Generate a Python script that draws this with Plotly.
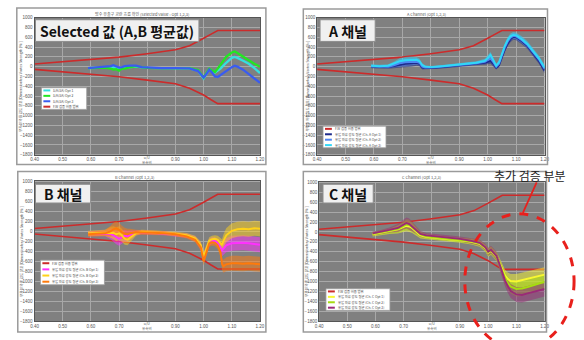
import plotly.graph_objects as go

W, H = 584, 340

# ---- allowable envelope (same for every channel) ----
ENV_X = [0.40, 0.50, 0.60, 0.70, 0.80, 0.90, 0.95, 0.975, 1.00, 1.025, 1.05, 1.20]
ENV_UP = [55, 100, 145, 195, 265, 345, 430, 500, 580, 660, 740, 740]
ENV_LO = [-55, -100, -150, -205, -275, -350, -440, -510, -580, -670, -755, -755]

# ---- Selected (average of A, B) ----
X_SEL = [0.59, 0.62, 0.65, 0.67, 0.68, 0.69, 0.70, 0.71, 0.72, 0.74, 0.76, 0.78, 0.80, 0.85, 0.90,
         0.95, 0.98, 1.00, 1.01, 1.02, 1.03, 1.04, 1.05, 1.06, 1.08, 1.10, 1.11, 1.12, 1.14, 1.16, 1.18, 1.20]
SEL_OPT1 = [-30, -30, -25, -20, -10, -30, -40, -30, -20, -10, 0, -20, -25, -30, -30,
            -35, -80, -240, -150, -50, -90, -120, -80, -40, 80, 180, 200, 180, 120, 60, -30, -130]
SEL_OPT2 = [-30, -20, -20, -40, -60, -50, -80, -40, -40, -10, 10, -10, -25, -30, -30,
            -30, -70, -220, -130, -40, -80, -110, -40, 40, 200, 290, 310, 280, 200, 130, 60, 0]
SEL_OPT3 = [-30, -20, -10, 10, 30, 10, -20, -10, 10, 20, 20, -10, -20, -30, -30,
            -35, -90, -220, -150, -60, -120, -200, -210, -170, -80, -10, 20, 0, -60, -150, -250, -330]

# ---- A channel ----
X_A = [0.59, 0.62, 0.65, 0.67, 0.69, 0.71, 0.73, 0.75, 0.76, 0.77, 0.78, 0.80, 0.84, 0.88, 0.92, 0.96, 0.99,
       1.00, 1.01, 1.02, 1.03, 1.04, 1.05, 1.06, 1.07, 1.08, 1.09, 1.10, 1.11, 1.12, 1.14, 1.16, 1.18, 1.20]
A_OPT1 = [0, -5, -10, 10, 40, 60, 70, 80, 60, -20, -30, -30, -10, 10, 30, 60, 80,
          100, 120, 60, -20, 30, 200, 350, 470, 560, 610, 600, 560, 520, 420, 280, 120, -80]
A_OPT2 = [10, 0, 0, 30, 70, 90, 100, 100, 80, 0, -20, -20, 0, 20, 40, 70, 100,
          130, 170, 90, 0, 60, 230, 390, 510, 590, 630, 620, 580, 540, 440, 300, 150, -40]
A_OPT3 = [20, 10, 20, 60, 110, 130, 140, 140, 110, 30, 0, -10, 10, 30, 50, 80, 120,
          170, 240, 130, 20, 90, 260, 420, 540, 620, 650, 640, 600, 560, 460, 320, 170, -20]
A_SPREAD = [30, 30, 30, 40, 60, 70, 70, 60, 50, 40, 30, 25, 25, 25, 30, 30, 40,
            50, 60, 50, 40, 40, 50, 50, 60, 60, 60, 60, 60, 60, 60, 60, 60, 60]

# ---- B channel ----
X_B = [0.59, 0.62, 0.65, 0.67, 0.68, 0.69, 0.70, 0.71, 0.72, 0.73, 0.74, 0.76, 0.78, 0.82, 0.86, 0.90, 0.94, 0.97,
       0.99, 1.00, 1.01, 1.02, 1.03, 1.04, 1.05, 1.06, 1.065, 1.07, 1.08, 1.10, 1.12, 1.14, 1.16, 1.18, 1.20]
B_OPT1 = [-50, -45, -40, -50, -80, -120, -150, -120, -90, -100, -70, -30, -20, -30, -40, -60, -90, -150,
          -300, -520, -380, -220, -190, -190, -230, -320, -380, -350, -280, -240, -230, -230, -240, -250, -270]
B_OPT2 = [-40, -35, -30, -20, -30, -60, -40, -80, -150, -170, -120, -40, -10, -20, -30, -50, -80, -140,
          -280, -500, -350, -190, -160, -150, -170, -230, -280, -200, -80, 10, 40, 50, 40, 60, 50]
B_OPT3 = [-60, -50, -40, 0, 40, 60, 30, -20, -50, -60, -40, -20, -20, -30, -40, -60, -100, -170,
          -320, -600, -420, -240, -220, -230, -280, -420, -650, -700, -660, -640, -640, -650, -640, -650, -660]
B_SPREAD = [50, 50, 60, 110, 130, 140, 140, 130, 120, 110, 90, 50, 40, 40, 40, 40, 45, 50,
            70, 80, 80, 70, 70, 70, 80, 100, 120, 130, 140, 150, 150, 150, 150, 150, 150]

# ---- C channel ----
X_C = [0.59, 0.62, 0.65, 0.68, 0.70, 0.71, 0.72, 0.73, 0.75, 0.76, 0.78, 0.82, 0.86, 0.90, 0.94, 0.97,
       0.99, 1.00, 1.01, 1.02, 1.03, 1.04, 1.05, 1.06, 1.07, 1.08, 1.10, 1.12, 1.14, 1.16, 1.18, 1.20]
C_OPT1 = [-50, -20, 10, 50, 100, 120, 110, 80, -20, -70, -100, -130, -150, -170, -200, -240,
          -330, -420, -380, -440, -500, -620, -760, -880, -950, -990, -1000, -970, -950, -920, -890, -860]
C_OPT2 = [-40, -10, 20, 60, 120, 150, 140, 100, 0, -50, -90, -120, -140, -160, -190, -230,
          -320, -410, -370, -430, -500, -640, -790, -930, -1030, -1100, -1150, -1140, -1110, -1070, -1040, -1010]
C_OPT3 = [-30, 0, 40, 80, 150, 180, 160, 110, 20, -40, -70, -90, -110, -140, -180, -220,
          -310, -400, -360, -420, -490, -650, -820, -980, -1100, -1190, -1260, -1270, -1240, -1210, -1180, -1150]
C_SPREAD = [40, 40, 50, 80, 100, 110, 110, 100, 70, 60, 50, 50, 50, 50, 55, 60,
            70, 80, 80, 80, 90, 100, 110, 120, 130, 140, 150, 150, 150, 150, 150, 150]

Y_TICKS = list(range(1000, -1801, -200))
X_TICKS = [0.40, 0.50, 0.60, 0.70, 0.80, 0.90, 1.00, 1.10, 1.20]
X_TICK_TEXT = ["0.40", "0.50", "0.60", "0.70", "", "0.90", "1.00", "1.10", "1.20"]

ENV_NAME = "F.W 검증 허용 범위"

RED = "#cc2b2b"


def fx(p):
    return p / W


def fy(p):
    return 1 - p / H


def rgba(hex_color, a):
    h = hex_color.lstrip("#")
    r, g, b = int(h[0:2], 16), int(h[2:4], 16), int(h[4:6], 16)
    return f"rgba({r},{g},{b},{a})"


panels = [
    dict(plot=(31, 16, 260, 155), frame=(13, 6, 266, 165),
         title="방수 유출구 교란 흐름 확인 (Selected Value : Opt 1,2,3)", title_pos=(140, 12),
         label="Selected 값 (A,B 평균값)", label_box=(32, 18, 198, 40),
         legend_box=(38, 87, 84, 109),
         x=X_SEL,
         series=[("S/A(SA) Opt 1", SEL_OPT1, "#35e0e0", None),
                 ("S/A(SA) Opt 2", SEL_OPT2, "#22e622", None),
                 ("S/A(SA) Opt 3", SEL_OPT3, "#3a5cf0", None)],
         env_last=True),
    dict(plot=(318, 16, 549, 155), frame=(304, 7, 552, 165),
         title="A Channel (Opt 1,2,3)", title_pos=(429, 12),
         label="A 채널", label_box=(321, 18, 377, 40),
         legend_box=(324, 126, 388, 148),
         x=X_A,
         series=[("유입 와류 강도 평균 (Ch. A Opt 1)", A_OPT1, "#1c2a8c", A_SPREAD),
                 ("유입 와류 강도 평균 (Ch. A Opt 2)", A_OPT2, "#4f86f2", A_SPREAD),
                 ("유입 와류 강도 평균 (Ch. A Opt 3)", A_OPT3, "#30d8f8", A_SPREAD)],
         env_last=False),
    dict(plot=(31, 182, 260, 324), frame=(14, 172, 266, 335),
         title="B Channel (Opt 1,2,3)", title_pos=(133, 178),
         label="B 채널", label_box=(32, 185, 88, 204),
         legend_box=(37, 262, 102, 287),
         x=X_B,
         series=[("유입 와류 강도 평균 (Ch. B Opt 1)", B_OPT1, "#ff30ff", B_SPREAD),
                 ("유입 와류 강도 평균 (Ch. B Opt 2)", B_OPT2, "#ffd21a", B_SPREAD),
                 ("유입 와류 강도 평균 (Ch. B Opt 3)", B_OPT3, "#ff7a0a", B_SPREAD)],
         env_last=False),
    dict(plot=(320, 183, 549, 324), frame=(304, 172, 551, 335),
         title="C Channel (Opt 1,2,3)", title_pos=(424, 178),
         label="C 채널", label_box=(324, 185, 375, 204),
         legend_box=(327, 291, 392, 313),
         x=X_C,
         series=[("유입 와류 강도 평균 (Ch. C Opt 1)", C_OPT1, "#f8f830", C_SPREAD),
                 ("유입 와류 강도 평균 (Ch. C Opt 2)", C_OPT2, "#a6dc10", C_SPREAD),
                 ("유입 와류 강도 평균 (Ch. C Opt 3)", C_OPT3, "#9a2a78", C_SPREAD)],
         env_last=False),
]

fig = go.Figure()
shapes = []
annotations = []
layout_axes = {}

for i, p in enumerate(panels):
    n = "" if i == 0 else str(i + 1)
    xa, ya = "x" + n, "y" + n
    x0, y0, x1, y1 = p["plot"]

    # screenshot frame around each chart
    fx0, fy0, fx1, fy1 = p["frame"]
    shapes.append(dict(type="rect", xref="paper", yref="paper",
                       x0=fx(fx0), x1=fx(fx1), y0=fy(fy1), y1=fy(fy0),
                       line=dict(color="#9a9a9a", width=1.5), fillcolor="rgba(0,0,0,0)"))

    layout_axes["xaxis" + n] = dict(
        domain=[fx(x0), fx(x1)], anchor=ya, range=[0.40, 1.20],
        tickvals=X_TICKS, ticktext=X_TICK_TEXT, showgrid=True, gridcolor="#a8a8a8", gridwidth=1,
        zeroline=False, showline=True, linecolor="#555555", linewidth=1, mirror=True,
        ticks="", tickfont=dict(size=4.5, color="#555555", family="Liberation Sans"))
    layout_axes["yaxis" + n] = dict(
        domain=[fy(y1), fy(y0)], anchor=xa, range=[-1800, 1000],
        tickvals=Y_TICKS, showgrid=True, gridcolor="#a8a8a8", gridwidth=1,
        zeroline=False, showline=True, linecolor="#555555", linewidth=1, mirror=True,
        ticks="", tickfont=dict(size=4.5, color="#555555", family="Liberation Sans"))

    env_traces = [
        go.Scatter(x=ENV_X, y=ENV_UP, mode="lines", line=dict(color=RED, width=1.6),
                   xaxis=xa, yaxis=ya, showlegend=False, hoverinfo="skip"),
        go.Scatter(x=ENV_X, y=ENV_LO, mode="lines", line=dict(color=RED, width=1.6),
                   xaxis=xa, yaxis=ya, showlegend=False, hoverinfo="skip"),
    ]
    if not p["env_last"]:
        for t in env_traces:
            fig.add_trace(t)

    xs = p["x"]
    # scatter clouds of the individual runs
    for name, ys, color, spread in p["series"]:
        if spread:
            up = [y + s for y, s in zip(ys, spread)]
            lo = [y - s for y, s in zip(ys, spread)]
            fig.add_trace(go.Scatter(x=xs + xs[::-1], y=up + lo[::-1], fill="toself",
                                     fillcolor=rgba(color, 0.5), line=dict(width=0),
                                     mode="lines", xaxis=xa, yaxis=ya,
                                     showlegend=False, hoverinfo="skip"))
    # averaged curves
    for name, ys, color, spread in p["series"]:
        fig.add_trace(go.Scatter(x=xs, y=ys, mode="lines", name=name,
                                 line=dict(color=color, width=2.3 if spread is None else 1.9),
                                 xaxis=xa, yaxis=ya, showlegend=False))
    if p["env_last"]:
        for t in env_traces:
            fig.add_trace(t)

    # small chart title
    tx, ty = p["title_pos"]
    annotations.append(dict(xref="paper", yref="paper", x=fx(tx), y=fy(ty), text=p["title"],
                            showarrow=False, xanchor="center", yanchor="middle",
                            font=dict(size=4, color="#555555", family="Noto Sans CJK KR")))
    # y-axis title
    annotations.append(dict(xref="paper", yref="paper", x=fx(fx0 + 4), y=fy((y0 + y1) / 2),
                            text="무차원 와류 강도 분포 [Dimensionless Vortex Strength (%)]",
                            textangle=-90, showarrow=False, xanchor="center", yanchor="middle",
                            font=dict(size=3.5, color="#555555", family="Noto Sans CJK KR")))
    # x-axis title under 0.80
    x80 = x0 + (0.80 - 0.40) / 0.80 * (x1 - x0)
    annotations.append(dict(xref="paper", yref="paper", x=fx(x80), y=fy(y1 + 5),
                            text="u/U<br>유속비", showarrow=False, xanchor="center", yanchor="middle",
                            font=dict(size=3.5, color="#555555", family="Noto Sans CJK KR")))

    # channel label box
    bx0, by0, bx1, by1 = p["label_box"]
    shapes.append(dict(type="rect", xref="paper", yref="paper",
                       x0=fx(bx0), x1=fx(bx1), y0=fy(by1), y1=fy(by0),
                       line=dict(color="#8c8c8c", width=1), fillcolor="#f0f0f0"))
    annotations.append(dict(xref="paper", yref="paper", x=fx((bx0 + bx1) / 2), y=fy((by0 + by1) / 2),
                            text="<b>" + p["label"] + "</b>", showarrow=False,
                            xanchor="center", yanchor="middle",
                            font=dict(size=14, color="#111111", family="Noto Sans CJK KR")))

    # legend box
    lx0, ly0, lx1, ly1 = p["legend_box"]
    shapes.append(dict(type="rect", xref="paper", yref="paper",
                       x0=fx(lx0), x1=fx(lx1), y0=fy(ly1), y1=fy(ly0),
                       line=dict(color="#9a9a9a", width=0.8), fillcolor="white"))
    entries = [(n_, c_) for n_, _, c_, _ in p["series"]]
    if p["env_last"]:
        entries = entries + [(ENV_NAME, RED)]
    else:
        entries = [(ENV_NAME, RED)] + entries
    row = (ly1 - ly0) / len(entries)
    for k, (txt, col) in enumerate(entries):
        cy = ly0 + row * (k + 0.5)
        shapes.append(dict(type="line", xref="paper", yref="paper",
                           x0=fx(lx0 + 2), x1=fx(lx0 + 9), y0=fy(cy), y1=fy(cy),
                           line=dict(color=col, width=2)))
        annotations.append(dict(xref="paper", yref="paper", x=fx(lx0 + 10), y=fy(cy),
                                text=txt, showarrow=False, xanchor="left", yanchor="middle",
                                font=dict(size=3.3, color="#444444", family="Noto Sans CJK KR")))

# callout for the region that needs further checking
shapes.append(dict(type="circle", xref="paper", yref="paper",
                   x0=fx(468), x1=fx(579), y0=fy(352), y1=fy(215),
                   line=dict(color="#e8201c", width=3, dash="dash")))
shapes.append(dict(type="line", xref="paper", yref="paper",
                   x0=fx(541), x1=fx(527), y0=fy(183), y1=fy(214),
                   line=dict(color="#e8201c", width=1.8)))
annotations.append(dict(xref="paper", yref="paper", x=fx(534), y=fy(176),
                        text="추가 검증 부분", showarrow=False, xanchor="center", yanchor="middle",
                        font=dict(size=12, color="#222222", family="Noto Sans CJK KR")))

fig.update_layout(
    width=W, height=H, margin=dict(l=0, r=0, t=0, b=0),
    paper_bgcolor="white", plot_bgcolor="#808080",
    showlegend=False, shapes=shapes, annotations=annotations,
    **layout_axes)

fig.write_html("out.html")
